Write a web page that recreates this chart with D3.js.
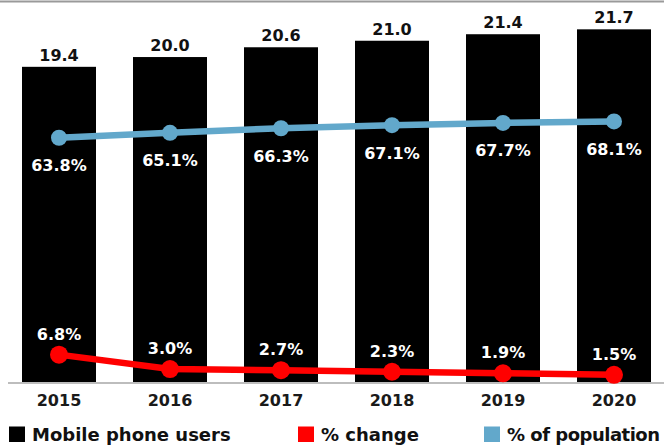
<!DOCTYPE html>
<html>
<head>
<meta charset="utf-8">
<script src="https://cdn.jsdelivr.net/npm/d3@7"></script>
<style>
  body { margin: 0; background: #fff; }
  text { font-family: "DejaVu Sans", sans-serif; font-weight: bold; }
</style>
</head>
<body>
<svg id="chart"></svg>
<script>
const years = ["2015", "2016", "2017", "2018", "2019", "2020"];
const users = [19.4, 20.0, 20.6, 21.0, 21.4, 21.7];
const pctChange = [6.8, 3.0, 2.7, 2.3, 1.9, 1.5];
const pctPopulation = [63.8, 65.1, 66.3, 67.1, 67.7, 68.1];
const legendItems = ["Mobile phone users", "% change", "% of population"];

const width = 664, height = 448;
const baseline = 383;
const blue = "#62a8cb", red = "#ff0000";

const svg = d3.select("#chart")
    .attr("width", width)
    .attr("height", height);

const x = d3.scaleBand()
    .domain(years)
    .range([3.5, 669.5])
    .paddingInner(1 / 3)
    .paddingOuter(1 / 6);

const y = d3.scaleLinear()
    .domain([0, 23.5])
    .range([baseline, 0]);

const yPct = d3.scaleLinear()
    .domain([0, 100])
    .range([380.5, 0]);

const cx = d => x(d) + x.bandwidth() / 2;

// top rule
svg.append("line")
    .attr("x1", 0).attr("x2", width)
    .attr("y1", 1.5).attr("y2", 1.5)
    .attr("stroke", "#9a9a9a")
    .attr("stroke-width", 2);

// bars
svg.append("g")
    .selectAll("rect")
    .data(users)
    .join("rect")
    .attr("x", (d, i) => x(years[i]))
    .attr("y", d => y(d))
    .attr("width", x.bandwidth())
    .attr("height", d => baseline - y(d))
    .attr("fill", "#000");

svg.append("g")
    .selectAll("text")
    .data(users)
    .join("text")
    .attr("x", (d, i) => cx(years[i]))
    .attr("y", d => y(d) - 6)
    .attr("text-anchor", "middle")
    .attr("font-size", 16)
    .attr("fill", "#111")
    .text(d => d.toFixed(1));

// x axis
const xAxis = svg.append("g")
    .attr("transform", `translate(0,${baseline})`)
    .call(d3.axisBottom(x).tickSize(0).tickPadding(10));
xAxis.select(".domain").remove();
xAxis.selectAll("text")
    .attr("font-size", 16)
    .attr("fill", "#1a1a1a")
    .attr("dy", "0.71em")
    .attr("y", 12);

svg.append("line")
    .attr("x1", 8).attr("x2", width)
    .attr("y1", baseline).attr("y2", baseline)
    .attr("stroke", "#bdbdbd")
    .attr("stroke-width", 2);

// lines
const line = d3.line()
    .x((d, i) => cx(years[i]))
    .y(d => yPct(d));

function series(values, color, r, labelDy) {
    const g = svg.append("g");
    g.append("path")
        .datum(values)
        .attr("d", line)
        .attr("fill", "none")
        .attr("stroke", color)
        .attr("stroke-width", 6.5);
    g.selectAll("circle")
        .data(values)
        .join("circle")
        .attr("cx", (d, i) => cx(years[i]))
        .attr("cy", d => yPct(d))
        .attr("r", r)
        .attr("fill", color);
    g.selectAll("text")
        .data(values)
        .join("text")
        .attr("x", (d, i) => cx(years[i]))
        .attr("y", d => yPct(d) + labelDy)
        .attr("text-anchor", "middle")
        .attr("font-size", 16)
        .attr("fill", "#fff")
        .text(d => d.toFixed(1) + "%");
}

series(pctPopulation, blue, 8, 33.5);
series(pctChange, red, 9, -15);

// legend
const legendX = [9, 298, 484];
const legendColors = ["#000", red, blue];
const legend = svg.append("g")
    .selectAll("g")
    .data(legendItems)
    .join("g")
    .attr("transform", (d, i) => `translate(${legendX[i]},426.5)`);
legend.append("rect")
    .attr("width", 16)
    .attr("height", 15.5)
    .attr("fill", (d, i) => legendColors[i]);
legend.append("text")
    .attr("x", 23)
    .attr("y", 14.5)
    .attr("font-size", 18)
    .attr("letter-spacing", (d, i) => i === 2 ? -0.5 : 0)
    .attr("fill", "#111")
    .text(d => d);
</script>
</body>
</html>
